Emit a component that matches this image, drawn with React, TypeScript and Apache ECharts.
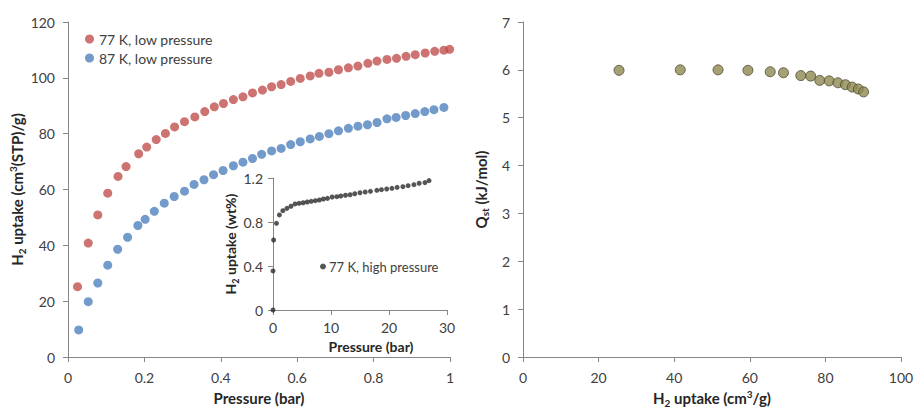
import React, { useEffect, useRef } from "react";
import * as echarts from "echarts";

const p77Low = [0.025,0.053,0.078,0.104,0.131,0.152,0.185,0.206,0.231,0.255,0.279,0.305,0.332,0.358,0.383,0.407,0.433,0.458,0.483,0.509,0.533,0.558,0.583,0.608,0.634,0.657,0.683,0.708,0.734,0.759,0.785,0.809,0.835,0.860,0.885,0.909,0.935,0.960,0.984,0.999];
const u77Low = [25.2,40.8,50.9,58.7,64.7,68.2,72.8,75.2,77.9,80.1,82.4,84.3,86.0,87.9,89.6,90.8,92.2,93.2,94.6,95.6,96.8,97.6,98.7,99.8,100.7,101.6,102.0,102.9,103.6,104.2,105.2,106.0,106.6,107.0,107.7,108.3,108.9,109.5,109.9,110.2];

const p87Low = [0.028,0.053,0.078,0.104,0.130,0.156,0.183,0.202,0.226,0.252,0.278,0.305,0.330,0.356,0.381,0.406,0.433,0.458,0.483,0.507,0.533,0.558,0.583,0.608,0.634,0.658,0.683,0.708,0.734,0.759,0.784,0.809,0.835,0.859,0.884,0.909,0.934,0.958,0.984];
const u87Low = [9.7,19.8,26.5,32.9,38.6,42.9,47.1,49.3,52.2,55.1,57.5,59.4,61.8,63.5,65.3,66.8,68.5,69.8,71.1,72.6,73.8,74.7,76.1,77.1,78.1,79.0,80.0,81.0,81.9,82.7,83.2,84.0,85.3,85.8,86.5,87.2,87.9,88.6,89.4];

const p77High = [0,0,0.1,0.6,1.1,1.7,2.4,3.1,3.8,4.5,5.2,5.9,6.6,7.3,8.0,8.7,9.4,10.2,11.0,11.7,12.5,13.3,14.1,15.0,15.9,16.8,17.9,18.7,19.6,20.5,21.4,22.4,23.3,24.3,25.2,26.2,26.9];
const wt77High = [0,0.355,0.636,0.788,0.864,0.903,0.924,0.943,0.964,0.970,0.975,0.982,0.988,0.994,1.000,1.009,1.015,1.027,1.030,1.036,1.043,1.048,1.057,1.066,1.073,1.079,1.088,1.094,1.100,1.106,1.115,1.121,1.130,1.139,1.152,1.158,1.176];

const qstUptake = [25.4,41.6,51.6,59.5,65.4,68.9,73.5,76.1,78.5,81.0,83.3,85.3,87.1,88.7,90.1];
const qstValues = [5.99,6.00,6.00,5.99,5.96,5.94,5.88,5.87,5.78,5.77,5.73,5.69,5.64,5.60,5.54];

const FONT = "Lato";
const AXIS_COLOR = "#868686";
const LABEL_COLOR = "#404040";
const TITLE_COLOR = "#262626";

const zip = (xs: number[], ys: number[]) => xs.map((x, i) => [x, ys[i]]);

const makeRich = (size: number, small: number) => ({
  t: { fontFamily: FONT, fontWeight: "bold", fontSize: size, color: TITLE_COLOR },
  sub: { fontFamily: FONT, fontWeight: "bold", fontSize: small, color: TITLE_COLOR, lineHeight: small, padding: [9, 0, 0, 0] },
  sup: { fontFamily: FONT, fontWeight: "bold", fontSize: small, color: TITLE_COLOR, lineHeight: small, padding: [0, 0, 9, 0] },
});
const titleRich = makeRich(15, 10);
const insetRich = makeRich(14, 9);

function valueAxis(extra: any) {
  return {
    type: "value",
    splitLine: { show: false },
    axisLine: { show: true, lineStyle: { color: AXIS_COLOR, width: 1 } },
    axisTick: { show: true, inside: false, length: 5, lineStyle: { color: AXIS_COLOR } },
    axisLabel: { color: LABEL_COLOR, fontFamily: FONT, fontSize: 14, margin: 13 },
    nameLocation: "middle",
    nameTextStyle: { fontFamily: FONT, fontWeight: "bold", fontSize: 15, color: TITLE_COLOR },
    ...extra,
  };
}

export default function App() {
  const ref = useRef<HTMLDivElement>(null);
  useEffect(() => {
    if (!ref.current) return;
    const chart = echarts.init(ref.current, null, { renderer: "svg" });
    chart.setOption({
      animation: false,
      backgroundColor: "#ffffff",
      grid: [
        { left: 68, top: 22, width: 382, height: 335, outerBoundsMode: "none", containLabel: false },
        { left: 523, top: 22, width: 378, height: 335, outerBoundsMode: "none", containLabel: false },
        { left: 273, top: 178, width: 174, height: 132, outerBoundsMode: "none", containLabel: false },
      ],
      xAxis: [
        valueAxis({ gridIndex: 0, min: 0, max: 1, interval: 0.2, name: "Pressure (bar)", nameGap: 33 }),
        valueAxis({
          gridIndex: 1, min: 0, max: 100, interval: 20, nameGap: 29,
          name: "{t|H}{sub|2}{t| uptake (cm}{sup|3}{t|/g)}",
          nameTextStyle: { rich: titleRich },
        }),
        valueAxis({
          gridIndex: 2, min: 0, max: 30, interval: 10, name: "Pressure (bar)", nameGap: 29,
          axisLabel: { color: LABEL_COLOR, fontFamily: FONT, fontSize: 14, margin: 10 },
          nameTextStyle: { fontFamily: FONT, fontWeight: "bold", fontSize: 14, color: TITLE_COLOR, padding: [0, 0, 0, 22] },
        }),
      ],
      yAxis: [
        valueAxis({
          gridIndex: 0, min: 0, max: 120, interval: 20, nameGap: 31, nameRotate: 90,
          name: "{t|H}{sub|2}{t| uptake (cm}{sup|3}{t|(STP)/g)}",
          nameTextStyle: { rich: titleRich },
        }),
        valueAxis({
          gridIndex: 1, min: 0, max: 7, interval: 1, nameGap: 35, nameRotate: 90,
          name: "{t|Q}{sub|st}{t| (kJ/mol)}",
          nameTextStyle: { rich: titleRich },
        }),
        valueAxis({
          gridIndex: 2, min: 0, max: 1.2, interval: 0.4, nameGap: 31, nameRotate: 90,
          axisLabel: { color: LABEL_COLOR, fontFamily: FONT, fontSize: 14, margin: 10 },
          name: "{t|H}{sub|2}{t| uptake (wt%)}",
          nameTextStyle: { rich: insetRich },
        }),
      ],
      legend: [
        {
          data: ["77 K, low pressure", "87 K, low pressure"],
          orient: "vertical", left: 80, top: 27, itemGap: 5,
          icon: "circle", itemWidth: 9, itemHeight: 9,
          textStyle: { fontFamily: FONT, fontSize: 14, color: LABEL_COLOR },
        },
        {
          data: ["77 K, high pressure"],
          orient: "vertical", left: 315, top: 255,
          icon: "circle", itemWidth: 6, itemHeight: 6, itemGap: 4,
          textStyle: { fontFamily: FONT, fontSize: 13, color: LABEL_COLOR, padding: [0, 0, 0, -2] },
        },
      ],
      series: [
        {
          name: "77 K, low pressure", type: "scatter", xAxisIndex: 0, yAxisIndex: 0,
          symbol: "circle", symbolSize: 9, itemStyle: { color: "#C0504D" },
          data: zip(p77Low, u77Low),
        },
        {
          name: "87 K, low pressure", type: "scatter", xAxisIndex: 0, yAxisIndex: 0,
          symbol: "circle", symbolSize: 9, itemStyle: { color: "#4F81BD" },
          data: zip(p87Low, u87Low),
        },
        {
          name: "77 K, high pressure", type: "scatter", xAxisIndex: 2, yAxisIndex: 2,
          symbol: "circle", symbolSize: 5, itemStyle: { color: "#2b2b2b" },
          data: zip(p77High, wt77High),
        },
        {
          name: "Qst", type: "scatter", xAxisIndex: 1, yAxisIndex: 1,
          symbol: "circle", symbolSize: 10,
          itemStyle: { color: "#8E8A52", borderColor: "#4d4b2e", borderWidth: 1 },
          data: zip(qstUptake, qstValues),
        },
      ],
    });
    return () => chart.dispose();
  }, []);
  return (
    <div
      ref={ref}
      style={{ position: "fixed", left: 0, top: 0, width: 917, height: 408 }}
    />
  );
}
